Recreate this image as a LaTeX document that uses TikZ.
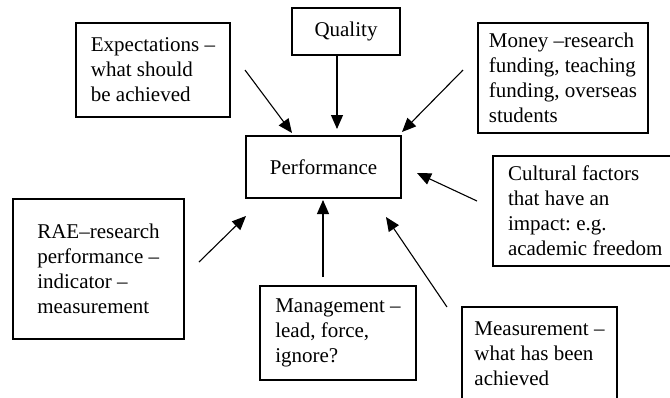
\documentclass[tikz,border=0pt]{standalone}
\usepackage{fontspec}
\setmainfont{Liberation Serif}
\usetikzlibrary{arrows.meta}

\begin{document}
\frenchspacing
\begin{tikzpicture}[x=0.5pt, y=-0.5pt,
		box/.style={draw, line width=0.6pt, align=left, inner sep=0pt, font=\fontsize{10.5pt}{12.5pt}\selectfont},
		arr/.style={-{Triangle[length=7pt, width=6pt]}, line width=0.55pt}]
				\useasboundingbox (0,0) rectangle (670,397);
				\clip (0,0) rectangle (670,397);

				% boxes
				\node[box, minimum width=77pt, minimum height=47pt] (expect) at (153, 70) {Expectations –\\what should\\be achieved};
				\node[box, minimum width=54pt, minimum height=23.5pt, align=center] (quality) at (346, 31.5) {Quality};
				\node[box, minimum width=85pt, minimum height=55pt] (money) at (563, 78) {Money –research\\funding, teaching\\funding, overseas\\students};
				\node[box, minimum width=77.5pt, minimum height=31pt, align=center] (perf) at (323.5, 167) {Performance};
				\node[box, text width=95pt, inner xsep=7.5pt, align=flush left, minimum height=55pt] (cult) at (603, 211) {Cultural factors\\that have an\\impact: e.g.\\academic freedom};
				\node[box, minimum width=85.5pt, minimum height=70pt] (rae) at (98.5, 269) {RAE–research\\performance –\\indicator –\\measurement};
				\node[box, minimum width=78pt, minimum height=47pt] (manage) at (338, 333) {Management –\\lead, force,\\ignore?};
				\node[box, minimum width=77.5pt, minimum height=47pt] (meas) at (539.5, 354) {Measurement –\\what has been\\achieved};

				% arrow ends
				\coordinate (expect-tail) at (245, 70);
				\coordinate (expect-tip) at (292, 133);
				\coordinate (quality-tail) at (337, 55);
				\coordinate (quality-tip) at (337, 129);
				\coordinate (money-tail) at (463, 70);
				\coordinate (money-tip) at (402, 132);
				\coordinate (cult-tail) at (477, 201);
				\coordinate (cult-tip) at (417, 173);
				\coordinate (rae-tail) at (199, 262);
				\coordinate (rae-tip) at (246, 216);
				\coordinate (manage-tail) at (323, 277);
				\coordinate (manage-tip) at (323, 200);
				\coordinate (meas-tail) at (447, 307);
				\coordinate (meas-tip) at (386, 217);

				% arrows
				\draw[arr] (expect-tail) -- (expect-tip);
				\draw[arr] (quality-tail) -- (quality-tip);
				\draw[arr] (money-tail) -- (money-tip);
				\draw[arr] (cult-tail) -- (cult-tip);
				\draw[arr] (rae-tail) -- (rae-tip);
				\draw[arr] (manage-tail) -- (manage-tip);
				\draw[arr] (meas-tail) -- (meas-tip);
			\end{tikzpicture}
\end{document}
